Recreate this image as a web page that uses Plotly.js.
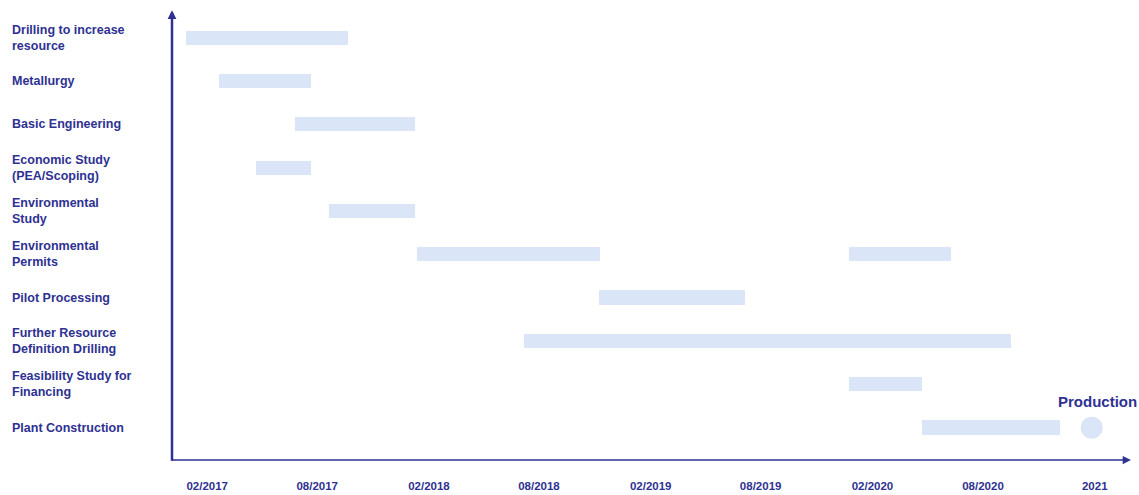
<!DOCTYPE html>
<html>
<head>
<meta charset="utf-8">
<script src="https://cdn.plot.ly/plotly-3.0.1.min.js"></script>
<style>
  html, body { margin: 0; padding: 0; background: #ffffff; }
  #chart { width: 1139px; height: 495px; }
</style>
</head>
<body>
<div id="chart"></div>
<script>
// Project phases, top to bottom
const phases = [
  'Drilling to increase<br>resource',
  'Metallurgy',
  'Basic Engineering',
  'Economic Study<br>(PEA/Scoping)',
  'Environmental<br>Study',
  'Environmental<br>Permits',
  'Pilot Processing',
  'Further Resource<br>Definition Drilling',
  'Feasibility Study for<br>Financing',
  'Plant Construction'
];

// Schedule blocks: phase row index, start and end date
const taskRow   = [0, 1, 2, 3, 4, 5, 5, 6, 7, 8, 9];
const taskStart = ['2016-12-28', '2017-02-21', '2017-06-26', '2017-04-22', '2017-08-21',
                   '2018-01-12', '2019-12-24', '2018-11-08', '2018-07-07', '2019-12-24', '2020-04-23'];
const taskEnd   = ['2017-09-21', '2017-07-22', '2018-01-09', '2017-07-22', '2018-01-09',
                   '2018-11-10', '2020-06-09', '2019-07-06', '2020-09-16', '2020-04-23', '2020-12-05'];

// Start of production milestone
const productionDate = '2021-01-27';
const productionRow = 9;
const productionLabel = 'Production';

// Timeline ticks
const tickDates  = ['2017-02-01', '2017-08-01', '2018-02-01', '2018-08-01', '2019-02-01',
                    '2019-08-01', '2020-02-01', '2020-08-01', '2021-02-01'];
const tickLabels = ['02/2017', '08/2017', '02/2018', '08/2018', '02/2019',
                    '08/2019', '02/2020', '08/2020', '2021'];

const navy = '#2e3192';
const barFill = '#dbe5f8';
const font = 'Liberation Sans, Arial, Helvetica, sans-serif';

const durations = taskStart.map((s, i) => Date.parse(taskEnd[i]) - Date.parse(s));

const bars = {
  type: 'bar',
  orientation: 'h',
  y: taskRow,
  base: taskStart,
  x: durations,
  width: 0.33,
  marker: { color: barFill, line: { width: 0 } },
  hoverinfo: 'skip',
  showlegend: false
};

const milestone = {
  type: 'scatter',
  mode: 'markers',
  x: [productionDate],
  y: [productionRow],
  marker: { symbol: 'circle', size: 22, color: barFill, line: { width: 0 } },
  hoverinfo: 'skip',
  showlegend: false
};

const annotations = phases.map((p, i) => ({
  xref: 'paper', yref: 'y',
  x: -0.169, y: i,
  xanchor: 'left', yanchor: 'middle',
  align: 'left',
  text: '<b>' + p + '</b>',
  showarrow: false,
  font: { family: font, size: 12.5, color: navy }
}));

annotations.push({
  xref: 'x', yref: 'y',
  x: productionDate, y: productionRow,
  xshift: 6, yshift: 26,
  text: '<b>' + productionLabel + '</b>',
  showarrow: false,
  font: { family: font, size: 15, color: navy }
});

// Axis arrows
annotations.push({
  xref: 'paper', yref: 'paper', axref: 'paper', ayref: 'paper',
  x: 0, y: 1.004, ax: 0, ay: -0.005,
  text: '', showarrow: true,
  arrowhead: 2, arrowsize: 0.7, arrowwidth: 2.5, arrowcolor: navy, standoff: 0
});
annotations.push({
  xref: 'paper', yref: 'paper', axref: 'paper', ayref: 'paper',
  x: 1.001, y: 0, ax: -0.002, ay: 0,
  text: '', showarrow: true,
  arrowhead: 2, arrowsize: 1.1, arrowwidth: 1.5, arrowcolor: navy, standoff: 0
});

const layout = {
  width: 1139, height: 495,
  margin: { l: 172, r: 9, t: 12, b: 35, pad: 0 },
  paper_bgcolor: '#ffffff',
  plot_bgcolor: '#ffffff',
  bargap: 0,
  xaxis: {
    type: 'date',
    range: ['2016-12-05', '2021-03-31'],
    tickmode: 'array',
    tickvals: tickDates,
    ticktext: tickLabels.map(t => '<b>' + t + '</b>'),
    ticks: '',
    ticklabelstandoff: 17,
    showgrid: false, zeroline: false, showline: false,
    tickfont: { family: font, size: 11.5, color: navy },
    fixedrange: true
  },
  yaxis: {
    range: [9.747, -0.592],
    showticklabels: false,
    showgrid: false, zeroline: false, showline: false,
    ticks: '',
    fixedrange: true
  },
  annotations: annotations,
  showlegend: false
};

Plotly.newPlot('chart', [bars, milestone], layout, { displayModeBar: false, staticPlot: true });
</script>
</body>
</html>
